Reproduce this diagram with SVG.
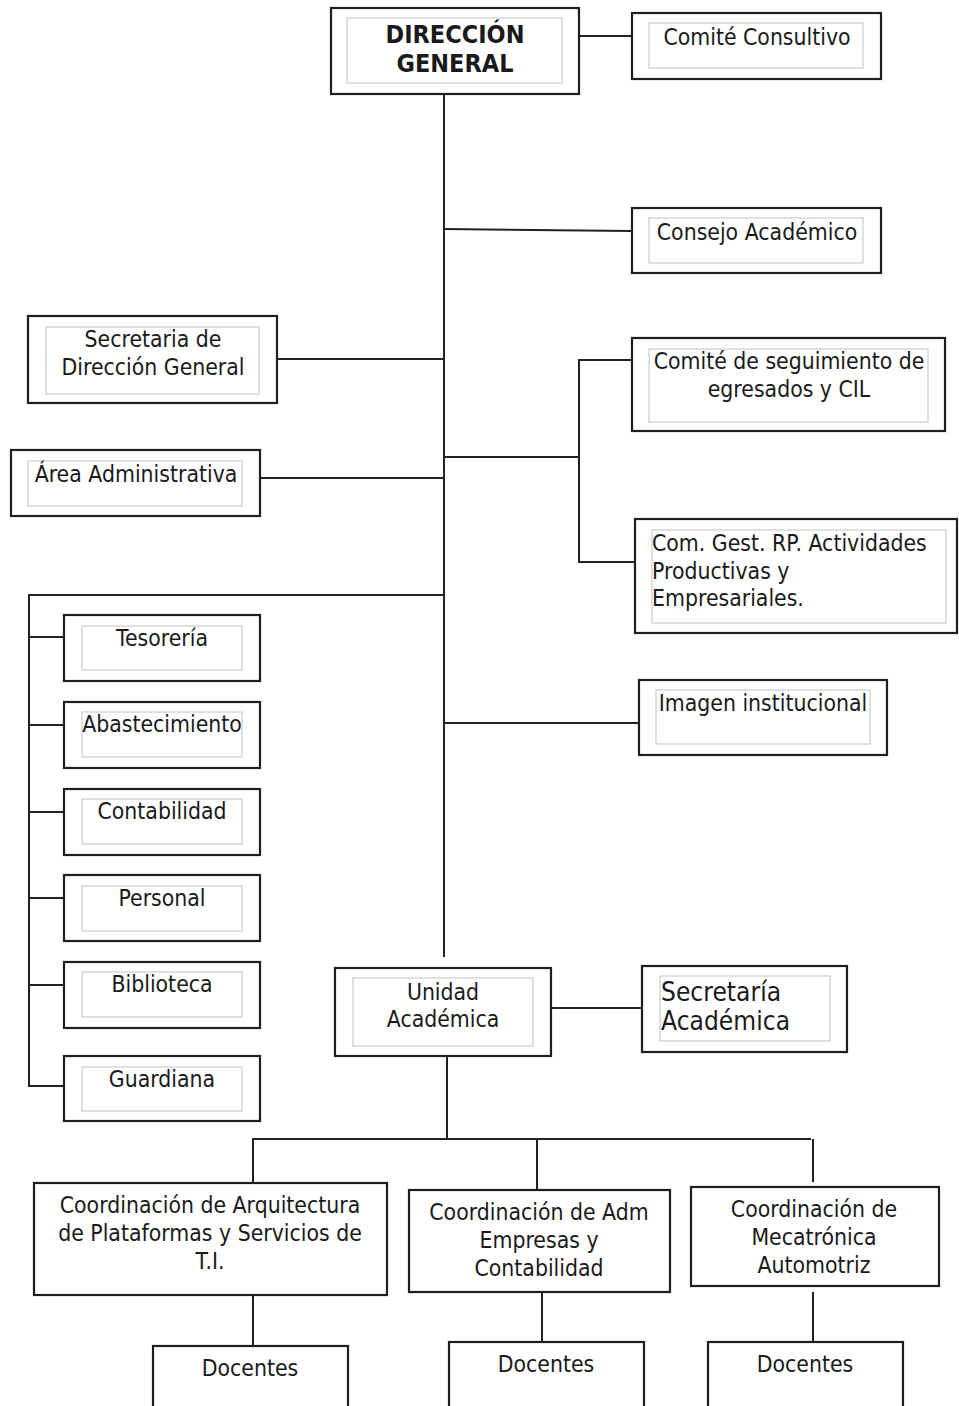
<svg xmlns="http://www.w3.org/2000/svg" width="959" height="1406" viewBox="0 0 959 1406">
  <style>
    .outer { fill: #ffffff; stroke: #1e1e1e; stroke-width: 2.2; }
    .inner { fill: #ffffff; stroke: #cccccc; stroke-width: 1.2; }
    .wire { fill: none; stroke: #222222; stroke-width: 2; }
    .t { font-family: "DejaVu Sans", "Noto Sans", sans-serif; font-size: 20.5px; fill: #1a1a1a; text-anchor: middle; }
    .s { text-anchor: start; }
    .b { font-weight: bold; font-size: 22.5px; }
    .big { font-size: 23.5px; }
  </style>

  <rect width="959" height="1406" fill="#ffffff"/>

  <!-- connectors -->
  <g id="connectors">
    <!-- main trunk -->
    <line class="wire" x1="444" y1="94" x2="444" y2="957"/>
    <line class="wire" x1="580" y1="36" x2="632" y2="36"/>
    <line class="wire" x1="444" y1="229" x2="632" y2="231"/>
    <line class="wire" x1="277" y1="359" x2="444" y2="359"/>
    <line class="wire" x1="260" y1="478" x2="444" y2="478"/>
    <!-- committees branch -->
    <line class="wire" x1="444" y1="457" x2="579" y2="457"/>
    <polyline class="wire" points="632,360 579,360 579,562 635,562"/>
    <line class="wire" x1="444" y1="723" x2="639" y2="723"/>
    <!-- administrative branch -->
    <polyline class="wire" points="444,595 29,595 29,1086 64,1086"/>
    <line class="wire" x1="29" y1="637" x2="64" y2="637"/>
    <line class="wire" x1="29" y1="725" x2="64" y2="725"/>
    <line class="wire" x1="29" y1="812" x2="64" y2="812"/>
    <line class="wire" x1="29" y1="898" x2="64" y2="898"/>
    <line class="wire" x1="29" y1="985" x2="64" y2="985"/>
    <!-- academic unit -->
    <line class="wire" x1="551" y1="1008" x2="642" y2="1008"/>
    <line class="wire" x1="447" y1="1057" x2="447" y2="1139"/>
    <line class="wire" x1="252" y1="1139" x2="811" y2="1139"/>
    <line class="wire" x1="253" y1="1139" x2="253" y2="1183"/>
    <line class="wire" x1="537" y1="1139" x2="537" y2="1190"/>
    <line class="wire" x1="813" y1="1139" x2="813" y2="1182"/>
    <line class="wire" x1="253" y1="1295" x2="253" y2="1346"/>
    <line class="wire" x1="542" y1="1292" x2="542" y2="1342"/>
    <line class="wire" x1="813" y1="1292" x2="813" y2="1342"/>
  </g>

  <g id="direccion-general">
    <rect class="outer" x="331" y="8" width="248" height="86"/>
    <rect class="inner" x="347" y="18" width="215" height="65"/>
    <text class="t b" transform="matrix(1 0 0 1.12 455 43)"><tspan x="0" y="0">DIRECCIÓN</tspan><tspan x="0" dy="26.3">GENERAL</tspan></text>
  </g>

  <g id="comite-consultivo">
    <rect class="outer" x="632" y="13" width="249" height="66"/>
    <rect class="inner" x="649" y="23" width="214" height="45"/>
    <text class="t" transform="matrix(1 0 0 1.15 757 45)">Comité Consultivo</text>
  </g>

  <g id="consejo-academico">
    <rect class="outer" x="632" y="208" width="249" height="65"/>
    <rect class="inner" x="649" y="218" width="214" height="45"/>
    <text class="t" transform="matrix(1 0 0 1.15 757 240)">Consejo Académico</text>
  </g>

  <g id="secretaria-direccion">
    <rect class="outer" x="28" y="316" width="249" height="87"/>
    <rect class="inner" x="46" y="327" width="213" height="67"/>
    <text class="t" transform="matrix(1 0 0 1.15 153 347)"><tspan x="0" y="0">Secretaria de</tspan><tspan x="0" dy="24.3">Dirección General</tspan></text>
  </g>

  <g id="area-administrativa">
    <rect class="outer" x="11" y="450" width="249" height="66"/>
    <rect class="inner" x="28" y="461" width="214" height="45"/>
    <text class="t" transform="matrix(1 0 0 1.15 136 482)">Área Administrativa</text>
  </g>

  <g id="comite-seguimiento">
    <rect class="outer" x="632" y="338" width="313" height="93"/>
    <rect class="inner" x="649" y="349" width="279" height="73"/>
    <text class="t" transform="matrix(1 0 0 1.15 789 369)"><tspan x="0" y="0">Comité de seguimiento de</tspan><tspan x="0" dy="24.3">egresados y CIL</tspan></text>
  </g>

  <g id="com-gest-rp">
    <rect class="outer" x="635" y="519" width="322" height="114"/>
    <rect class="inner" x="652" y="530" width="294" height="93"/>
    <text class="t s" transform="matrix(1 0 0 1.15 652 551)"><tspan x="0" y="0">Com. Gest. RP. Actividades</tspan><tspan x="0" dy="24">Productivas y</tspan><tspan x="0" dy="24">Empresariales.</tspan></text>
  </g>

  <g id="imagen-institucional">
    <rect class="outer" x="639" y="680" width="248" height="75"/>
    <rect class="inner" x="656" y="690" width="214" height="54"/>
    <text class="t" transform="matrix(1 0 0 1.15 763 711)">Imagen institucional</text>
  </g>

  <g id="tesoreria">
    <rect class="outer" x="64" y="615" width="196" height="66"/>
    <rect class="inner" x="82" y="626" width="160" height="44"/>
    <text class="t" transform="matrix(1 0 0 1.15 162 646)">Tesorería</text>
  </g>

  <g id="abastecimiento">
    <rect class="outer" x="64" y="702" width="196" height="66"/>
    <rect class="inner" x="82" y="712" width="160" height="45"/>
    <text class="t" transform="matrix(1 0 0 1.15 162 732)">Abastecimiento</text>
  </g>

  <g id="contabilidad">
    <rect class="outer" x="64" y="789" width="196" height="66"/>
    <rect class="inner" x="82" y="799" width="160" height="45"/>
    <text class="t" transform="matrix(1 0 0 1.15 162 819)">Contabilidad</text>
  </g>

  <g id="personal">
    <rect class="outer" x="64" y="875" width="196" height="66"/>
    <rect class="inner" x="82" y="886" width="160" height="45"/>
    <text class="t" transform="matrix(1 0 0 1.15 162 906)">Personal</text>
  </g>

  <g id="biblioteca">
    <rect class="outer" x="64" y="962" width="196" height="66"/>
    <rect class="inner" x="82" y="972" width="160" height="45"/>
    <text class="t" transform="matrix(1 0 0 1.15 162 992)">Biblioteca</text>
  </g>

  <g id="guardiana">
    <rect class="outer" x="64" y="1056" width="196" height="65"/>
    <rect class="inner" x="82" y="1067" width="160" height="44"/>
    <text class="t" transform="matrix(1 0 0 1.15 162 1087)">Guardiana</text>
  </g>

  <g id="unidad-academica">
    <rect class="outer" x="335" y="968" width="216" height="88"/>
    <rect class="inner" x="353" y="978" width="180" height="68"/>
    <text class="t" transform="matrix(1 0 0 1.15 443 1000)"><tspan x="0" y="0">Unidad</tspan><tspan x="0" dy="23.7">Académica</tspan></text>
  </g>

  <g id="secretaria-academica">
    <rect class="outer" x="642" y="966" width="205" height="86"/>
    <rect class="inner" x="660" y="976" width="170" height="65"/>
    <text class="t s big" transform="matrix(1 0 0 1.12 661 1001)"><tspan x="0" y="0">Secretaría</tspan><tspan x="0" dy="26.3">Académica</tspan></text>
  </g>

  <g id="coord-arquitectura">
    <rect class="outer" x="34" y="1183" width="353" height="112"/>
    <text class="t" transform="matrix(1 0 0 1.15 210 1213)"><tspan x="0" y="0">Coordinación de Arquitectura</tspan><tspan x="0" dy="24.3">de Plataformas y Servicios de</tspan><tspan x="0" dy="24.3">T.I.</tspan></text>
  </g>

  <g id="coord-adm">
    <rect class="outer" x="409" y="1190" width="261" height="102"/>
    <text class="t" transform="matrix(1 0 0 1.15 539 1220)"><tspan x="0" y="0">Coordinación de Adm</tspan><tspan x="0" dy="24.3">Empresas y</tspan><tspan x="0" dy="24.3">Contabilidad</tspan></text>
  </g>

  <g id="coord-mecatronica">
    <rect class="outer" x="691" y="1187" width="248" height="99"/>
    <text class="t" transform="matrix(1 0 0 1.15 814 1217)"><tspan x="0" y="0">Coordinación de</tspan><tspan x="0" dy="24.3">Mecatrónica</tspan><tspan x="0" dy="24.3">Automotriz</tspan></text>
  </g>

  <g id="docentes-1">
    <rect class="outer" x="153" y="1346" width="195" height="70"/>
    <text class="t" transform="matrix(1 0 0 1.15 250 1376)">Docentes</text>
  </g>

  <g id="docentes-2">
    <rect class="outer" x="449" y="1342" width="195" height="74"/>
    <text class="t" transform="matrix(1 0 0 1.15 546 1372)">Docentes</text>
  </g>

  <g id="docentes-3">
    <rect class="outer" x="708" y="1342" width="195" height="74"/>
    <text class="t" transform="matrix(1 0 0 1.15 805 1372)">Docentes</text>
  </g>
</svg>
